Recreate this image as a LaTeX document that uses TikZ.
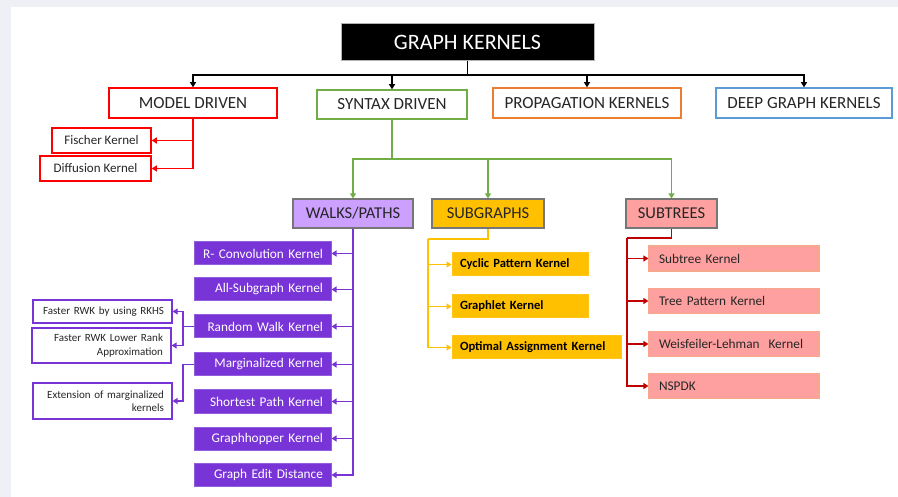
\documentclass[tikz,border=0pt]{standalone}
\usepackage{fontspec}
\setmainfont{Carlito}
\usetikzlibrary{arrows.meta}
\definecolor{bgstrip}{RGB}{238,240,245}
\definecolor{tx}{RGB}{38,38,38}
\definecolor{mred}{RGB}{255,0,0}
\definecolor{sgreen}{RGB}{112,173,71}
\definecolor{porange}{RGB}{237,125,49}
\definecolor{dblue}{RGB}{91,155,213}
\definecolor{lav}{RGB}{204,160,255}
\definecolor{gbord}{RGB}{118,118,118}
\definecolor{gold}{RGB}{255,192,0}
\definecolor{pinkf}{RGB}{255,160,160}
\definecolor{pinkb}{RGB}{247,168,140}
\definecolor{dred}{RGB}{192,0,0}
\definecolor{vio}{RGB}{120,52,214}
\tikzset{
  tip/.style={-{Triangle[width=6pt,length=5pt]}},
  lvl/.style={draw, line width=1.5pt, fill=white, inner sep=0pt, text=tx,
    font=\fontsize{17}{20}\selectfont, minimum height=30pt},
  subcat/.style={draw=gbord, line width=1.2pt, inner sep=0pt, text=tx,
    font=\fontsize{16.5}{20}\selectfont, minimum height=29pt},
  redkid/.style={draw=mred, line width=1.5pt, fill=white, inner sep=0pt, text=tx,
    font=\fontsize{13}{15}\selectfont, minimum height=25pt},
  vkid/.style={fill=vio, draw=vio!80!white, line width=1pt, text=white,
    font=\fontsize{13.3}{15}\selectfont, minimum width=137pt, minimum height=23pt,
    inner xsep=8pt, inner ysep=0pt, text width=121pt, align=right},
  wkid/.style={draw=vio, line width=1.2pt, fill=white, text=tx,
    font=\fontsize{11}{13.5}\selectfont, minimum width=139pt,
    inner xsep=8pt, inner ysep=0pt, text width=123pt, align=right},
  gkid/.style={fill=gold, draw=gold!90!white, line width=1pt, text=black,
    font=\bfseries\fontsize{12.6}{15}\selectfont, minimum height=23pt,
    inner xsep=8pt, inner ysep=0pt, align=left},
  pkid/.style={fill=pinkf, draw=pinkb, line width=1.2pt, text=tx,
    font=\fontsize{13.3}{15}\selectfont, minimum width=170pt, minimum height=25pt,
    inner xsep=10pt, inner ysep=0pt, text width=150pt, align=left},
}
\begin{document}
\begin{tikzpicture}[x=1pt,y=-1pt]
\useasboundingbox (0,0) rectangle (898,497);
\fill[bgstrip] (0,0) rectangle (898,497);
\fill[white] (11,7) rectangle (898,497);

% top
\node[fill=black, draw=gray!60, line width=1pt, text=white, minimum width=253pt, minimum height=37pt,
  inner sep=0pt, font=\fontsize{22}{26}\selectfont] (gk) at (467.5,42.5) {GRAPH KERNELS};

% level 2
\node[lvl, draw=mred, minimum width=168pt] (md) at (193,103) {MODEL DRIVEN};
\node[lvl, draw=sgreen, minimum width=150pt, minimum height=29pt] (sd) at (392,104.5) {SYNTAX DRIVEN};
\node[lvl, draw=porange, minimum width=188pt] (pk) at (587,103) {PROPAGATION KERNELS};
\node[lvl, draw=dblue, minimum width=176pt] (dg) at (804,103) {DEEP GRAPH KERNELS};

\coordinate (b1) at (467.5,75);
\draw[line width=1.5pt, black] (gk.south) -- (b1);
\foreach \n in {md,sd,pk,dg}{\draw[line width=1.5pt, black, tip] (b1) -| (\n.north);}

% model driven children
\node[redkid, minimum width=99pt] (fk) at (101.5,140.5) {Fischer Kernel};
\node[redkid, minimum width=111pt] (dk) at (95.5,168.5) {Diffusion Kernel};
\draw[line width=1.5pt, mred, tip] (md.south) |- (fk.east);
\draw[line width=1.5pt, mred, tip] (md.south) |- (dk.east);

% syntax driven children
\node[subcat, fill=lav, minimum width=120pt] (wp) at (353,213.5) {WALKS/PATHS};
\node[subcat, fill=gold, minimum width=112pt] (sg) at (488,213.5) {SUBGRAPHS};
\node[subcat, fill=pinkf, minimum width=91pt] (st) at (671.5,213.5) {SUBTREES};
\coordinate (g1) at (392,159);
\draw[line width=1.5pt, sgreen] (sd.south) -- (g1);
\foreach \n in {wp,sg,st}{\draw[line width=1.5pt, sgreen, tip] (g1) -| (\n.north);}

% walks/paths children
\node[vkid] (rc) at (262.5,253.5) {R- Convolution Kernel};
\node[vkid] (as) at (262.5,289.5) {All-Subgraph Kernel};
\node[vkid] (rw) at (262.5,326.5) {Random Walk Kernel};
\node[vkid] (mk) at (262.5,364.5) {Marginalized Kernel};
\node[vkid] (sp) at (262.5,401.5) {Shortest Path Kernel};
\node[vkid] (gh) at (262.5,438.5) {Graphhopper Kernel};
\node[vkid] (ged) at (262.5,475) {Graph Edit Distance};
\foreach \n in {rc,as,rw,mk,sp,gh,ged}{\draw[line width=1.5pt, vio, tip] (wp.south) |- (\n.east);}

\node[wkid, minimum height=23pt] (rkhs) at (102.5,311.5) {Faster RWK by using RKHS};
\node[wkid, minimum height=35pt] (low) at (101.5,345.5) {Faster RWK Lower Rank\\Approximation};
\node[wkid, minimum height=36pt] (ext) at (102.5,401) {Extension of marginalized\\kernels};
\coordinate (rw1) at (183,326.5);
\draw[line width=1.3pt, vio] (rw.west) -- (rw1);
\draw[line width=1.3pt, vio, tip] (rw1) |- (rkhs.east);
\draw[line width=1.3pt, vio, tip] (rw1) |- (low.east);
\coordinate (mk1) at (183,364.5);
\draw[line width=1.3pt, vio, tip] (mk.west) -- (mk1) |- (ext.east);

% subgraphs children
\node[gkid, minimum width=136pt, text width=120pt] (cp) at (520,264.5) {Cyclic Pattern Kernel};
\node[gkid, minimum width=136pt, text width=120pt] (gl) at (520,306.5) {Graphlet Kernel};
\node[gkid, minimum width=169pt, text width=153pt] (oa) at (536.5,347.5) {Optimal Assignment Kernel};
\coordinate (s1) at (428,239);
\draw[line width=1.5pt, gold] (sg.south) |- (s1);
\foreach \n in {cp,gl,oa}{\draw[line width=1.5pt, gold, tip] (s1) |- (\n.west);}

% subtrees children
\node[pkid] (stk) at (734,258.5) {Subtree Kernel};
\node[pkid] (tp) at (734,301) {Tree Pattern Kernel};
\node[pkid] (wl) at (734,344) {Weisfeiler-Lehman\ \ Kernel};
\node[pkid] (ns) at (734,386) {NSPDK};
\coordinate (t1) at (627,238);
\draw[line width=1.5pt, dred] (st.south) |- (t1);
\foreach \n in {stk,tp,wl,ns}{\draw[line width=1.5pt, dred, tip] (t1) |- (\n.west);}
\end{tikzpicture}
\end{document}
